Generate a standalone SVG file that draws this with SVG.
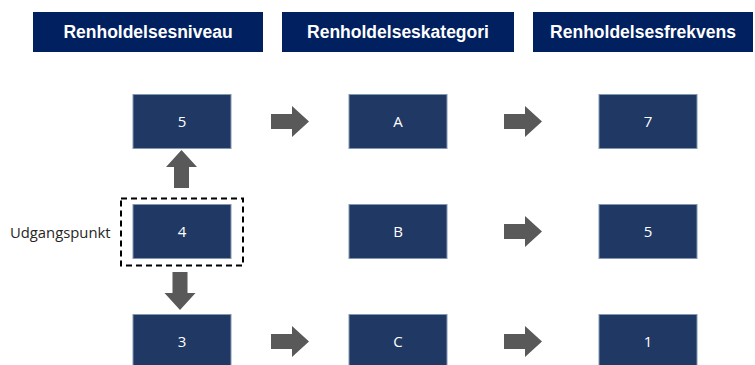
<svg xmlns="http://www.w3.org/2000/svg" width="755" height="365" viewBox="0 0 755 365">
<defs>
<style>
.hdr{fill:#002060}
.hdrt{fill:#ffffff;font-family:"Liberation Sans",Arial,sans-serif;font-weight:bold;font-size:17.5px;text-anchor:middle}
.node{fill:#203864;stroke:#8497B0;stroke-width:1}
.nt{fill:#ffffff;font-family:"Open Sans","Liberation Sans",sans-serif;font-size:15px;text-anchor:middle}
.arr{fill:#595959}
.lbl{fill:#262626;font-family:"Open Sans","Liberation Sans",sans-serif;font-size:14.8px}
</style>
<path id="ra" class="arr" d="M0,-7.5 H21 V-15.5 L38,0 L21,15.5 V7.5 H0 Z"/>
</defs>
<rect width="755" height="365" fill="#ffffff"/>
<g id="header-niveau"><rect class="hdr" x="33" y="12" width="230" height="40"/><text class="hdrt" x="148" y="38">Renholdelsesniveau</text></g>
<g id="header-kategori"><rect class="hdr" x="282" y="12" width="232" height="40"/><text class="hdrt" x="398" y="38">Renholdelseskategori</text></g>
<g id="header-frekvens"><rect class="hdr" x="533" y="12" width="220" height="40"/><text class="hdrt" x="643" y="38">Renholdelsesfrekvens</text></g>

<g id="node-5"><rect class="node" x="133" y="94.5" width="98" height="54"/><text class="nt" x="182" y="127">5</text></g>
<g id="node-4">
<rect x="121" y="198.5" width="122" height="67" fill="none" stroke="#000000" stroke-width="2" stroke-dasharray="6,4"/>
<rect class="node" x="133" y="204.5" width="98" height="54"/><text class="nt" x="182" y="237">4</text>
<text class="lbl" x="10" y="238">Udgangspunkt</text>
</g>
<g id="node-3"><rect class="node" x="133" y="314.5" width="98" height="54"/><text class="nt" x="182" y="347">3</text></g>

<g id="node-A"><rect class="node" x="349" y="94.5" width="98" height="54"/><text class="nt" x="398" y="127">A</text></g>
<g id="node-B"><rect class="node" x="349" y="204.5" width="98" height="54"/><text class="nt" x="398" y="237">B</text></g>
<g id="node-C"><rect class="node" x="349" y="314.5" width="98" height="54"/><text class="nt" x="398" y="347">C</text></g>

<g id="node-7"><rect class="node" x="599" y="94.5" width="98" height="54"/><text class="nt" x="648" y="127">7</text></g>
<g id="node-5f"><rect class="node" x="599" y="204.5" width="98" height="54"/><text class="nt" x="648" y="237">5</text></g>
<g id="node-1"><rect class="node" x="599" y="314.5" width="98" height="54"/><text class="nt" x="648" y="347">1</text></g>

<g id="connectors">
<use href="#ra" transform="translate(271,121.5)"/>
<use href="#ra" transform="translate(504,121.5)"/>
<use href="#ra" transform="translate(504,231.5)"/>
<use href="#ra" transform="translate(271,341.5)"/>
<use href="#ra" transform="translate(504,341.5)"/>
<use href="#ra" transform="translate(181.5,188) rotate(-90)"/>
<use href="#ra" transform="translate(180,272) rotate(90)"/>
</g>
</svg>
